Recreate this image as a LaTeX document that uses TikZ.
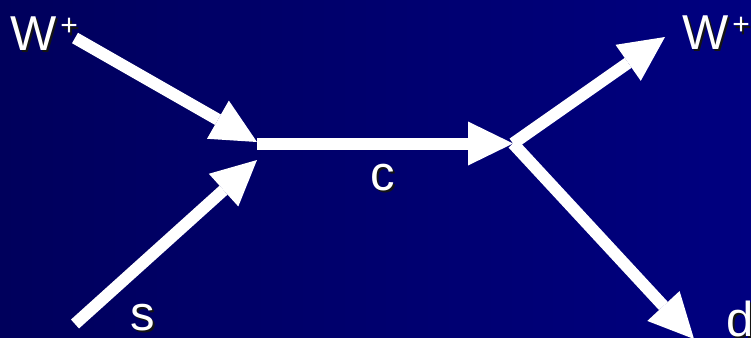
\documentclass[tikz,border=0pt]{standalone}
\usepackage{fontspec}
\setmainfont{Liberation Sans}
\usetikzlibrary{arrows.meta}
\definecolor{bgleft}{RGB}{0,0,92}
\definecolor{bgright}{RGB}{0,0,128}
\definecolor{shadowc}{RGB}{20,20,20}
\newcommand{\shd}[1]{\makebox[0pt][l]{\kern2pt\raisebox{-2pt}{\color{shadowc}#1}}#1}
\newcommand{\wplus}{W\kern4pt\raisebox{14pt}{\fontsize{30}{30}\selectfont +}}
\tikzset{
  lbl/.style={inner sep=0pt, anchor=base west, text=white, font=\fontsize{49}{49}\selectfont},
  fermion/.style={draw=white, line width=12pt, line cap=butt,
    -{Triangle[length=45pt,width=44pt,line width=0pt]}},
  plain/.style={draw=white, line width=12pt, line cap=butt}
}
\begin{document}
\begin{tikzpicture}[x=1pt,y=-1pt]
\useasboundingbox (0,0) rectangle (751,337);
\shade[left color=bgleft, right color=bgright] (0,0) rectangle (751,337);
% points
\coordinate (wstart) at (75,38);
\coordinate (sstart) at (75,324);
\coordinate (v1a) at (257,142);
\coordinate (v1b) at (257,160);
\coordinate (v1) at (257,143.5);
\coordinate (v2) at (513,143.5);
\coordinate (wend) at (665,37);
\coordinate (dend) at (694,339);
% connectors
\draw[fermion] (wstart) -- (v1a);
\draw[fermion] (sstart) -- (v1b);
\draw[fermion] (v1) -- (v2);
\draw[fermion] (v2) -- (wend);
\draw[fermion] (v2) -- (dend);
% labels
\node[lbl] (wl) at (10,50) {\shd{\wplus}};
\node[lbl] (wr) at (682,49) {\shd{\wplus}};
\node[lbl] (c) at (370,190) {\shd{c}};
\node[lbl] (s) at (130,330) {\shd{s}};
\node[lbl] (d) at (726,336) {\shd{d}};
\end{tikzpicture}
\end{document}
